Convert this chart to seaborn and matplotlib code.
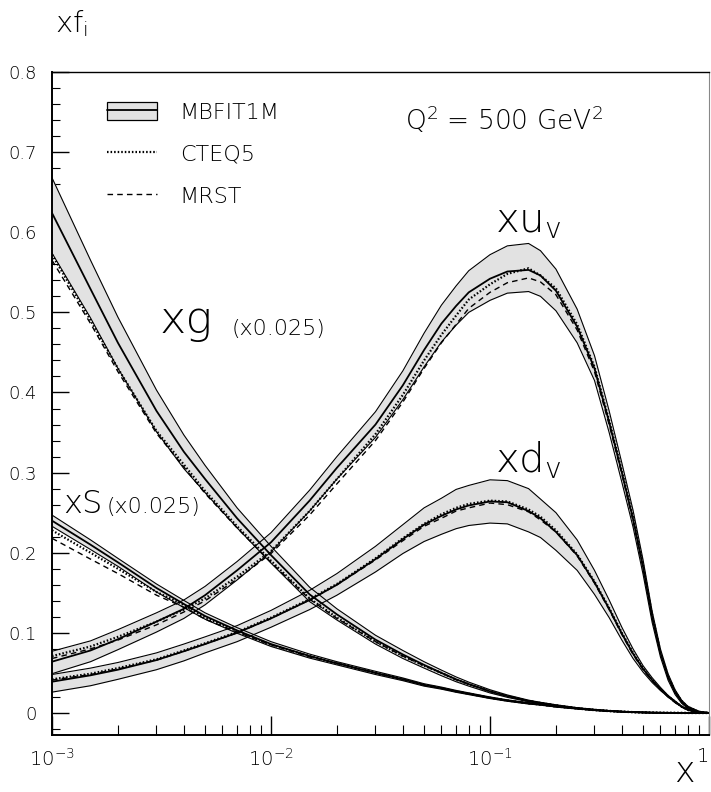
import numpy as np
import pandas as pd
import matplotlib
matplotlib.use("Agg")
import matplotlib.pyplot as plt
import seaborn as sns
from matplotlib.patches import Patch
from matplotlib.lines import Line2D
from matplotlib.legend_handler import HandlerTuple
from matplotlib.ticker import FixedLocator, LogLocator, MultipleLocator, NullFormatter

# ---------------- data ----------------
x_vals = [0.001, 0.0015, 0.002, 0.003, 0.004, 0.005, 0.007, 0.01, 0.015, 0.02, 0.03, 0.04,
          0.05, 0.06, 0.07, 0.08, 0.1, 0.12, 0.15, 0.17, 0.2, 0.25, 0.3, 0.35, 0.4, 0.45,
          0.5, 0.55, 0.6, 0.65, 0.7, 0.75, 0.8, 0.9, 1.0]

# x u_v
xu_c = [0.064, 0.078, 0.092, 0.114, 0.130, 0.147, 0.178, 0.213, 0.265, 0.306, 0.360, 0.409,
        0.453, 0.486, 0.508, 0.525, 0.542, 0.551, 0.553, 0.546, 0.527, 0.482, 0.430, 0.363, 0.300, 0.242,
        0.182, 0.120, 0.075, 0.045, 0.026, 0.014, 0.007, 0.0015, 0.0]
xu_hi = [0.077, 0.090, 0.104, 0.125, 0.141, 0.158, 0.189, 0.225, 0.278, 0.320, 0.376, 0.427,
         0.474, 0.509, 0.533, 0.552, 0.572, 0.583, 0.586, 0.577, 0.554, 0.504, 0.446, 0.377, 0.312, 0.253,
         0.191, 0.127, 0.080, 0.049, 0.029, 0.016, 0.0085, 0.002, 0.0]
xu_lo = [0.049, 0.064, 0.079, 0.101, 0.118, 0.135, 0.166, 0.201, 0.252, 0.292, 0.344, 0.391,
         0.432, 0.463, 0.484, 0.500, 0.515, 0.524, 0.526, 0.520, 0.502, 0.462, 0.415, 0.350, 0.288, 0.232,
         0.173, 0.113, 0.070, 0.041, 0.023, 0.012, 0.0055, 0.001, 0.0]
xu_cteq = [0.071, 0.083, 0.095, 0.114, 0.129, 0.143, 0.170, 0.202, 0.252, 0.292, 0.348, 0.397,
           0.440, 0.472, 0.496, 0.516, 0.535, 0.548, 0.555, 0.546, 0.530, 0.485, 0.432, 0.365, 0.302, 0.244,
           0.184, 0.122, 0.076, 0.046, 0.027, 0.015, 0.0075, 0.0015, 0.0]
xu_mrst = [0.068, 0.080, 0.091, 0.110, 0.126, 0.140, 0.167, 0.199, 0.247, 0.286, 0.340, 0.388,
           0.430, 0.462, 0.485, 0.505, 0.525, 0.537, 0.543, 0.538, 0.522, 0.478, 0.426, 0.360, 0.298, 0.240,
           0.181, 0.120, 0.075, 0.045, 0.026, 0.014, 0.007, 0.0015, 0.0]

# x d_v
xd_c = [0.039, 0.047, 0.054, 0.066, 0.077, 0.086, 0.100, 0.118, 0.141, 0.160, 0.192, 0.217,
        0.235, 0.246, 0.254, 0.259, 0.264, 0.263, 0.252, 0.243, 0.226, 0.197, 0.163, 0.130, 0.099, 0.074,
        0.055, 0.041, 0.030, 0.021, 0.014, 0.008, 0.004, 0.0008, 0.0]
xd_hi = [0.048, 0.056, 0.063, 0.075, 0.086, 0.095, 0.109, 0.128, 0.153, 0.174, 0.208, 0.235,
         0.256, 0.268, 0.279, 0.284, 0.291, 0.290, 0.280, 0.267, 0.250, 0.216, 0.178, 0.141, 0.107, 0.080,
         0.059, 0.044, 0.032, 0.022, 0.015, 0.0085, 0.0045, 0.001, 0.0]
xd_lo = [0.026, 0.034, 0.042, 0.054, 0.065, 0.075, 0.089, 0.107, 0.129, 0.147, 0.176, 0.199,
         0.214, 0.223, 0.230, 0.234, 0.237, 0.236, 0.226, 0.219, 0.203, 0.178, 0.148, 0.119, 0.091, 0.068,
         0.051, 0.038, 0.028, 0.020, 0.013, 0.0075, 0.0035, 0.0006, 0.0]
xd_cteq = [0.042, 0.049, 0.056, 0.067, 0.078, 0.087, 0.101, 0.119, 0.142, 0.161, 0.193, 0.218,
           0.236, 0.248, 0.256, 0.261, 0.265, 0.264, 0.254, 0.245, 0.228, 0.198, 0.164, 0.131, 0.100, 0.075,
           0.056, 0.041, 0.030, 0.021, 0.014, 0.008, 0.004, 0.0008, 0.0]
xd_mrst = [0.041, 0.048, 0.055, 0.066, 0.077, 0.086, 0.100, 0.118, 0.141, 0.160, 0.191, 0.215,
           0.233, 0.243, 0.252, 0.256, 0.262, 0.260, 0.251, 0.241, 0.226, 0.196, 0.162, 0.129, 0.098, 0.073,
           0.054, 0.040, 0.029, 0.020, 0.013, 0.0075, 0.0038, 0.0008, 0.0]

# x g  (x 0.025)
xg_c = [0.624, 0.529, 0.462, 0.377, 0.326, 0.292, 0.243, 0.197, 0.148, 0.123, 0.0915, 0.073,
        0.060, 0.050, 0.042, 0.036, 0.027, 0.021, 0.015, 0.0125, 0.0095, 0.006, 0.004, 0.0026, 0.0017, 0.0011,
        0.0007, 0.0004, 0.00025, 0.00015, 0.0001, 0.00005, 0.00002, 0.0, 0.0]
xg_hi = [0.668, 0.565, 0.494, 0.403, 0.347, 0.309, 0.256, 0.208, 0.157, 0.130, 0.097, 0.078,
         0.064, 0.0535, 0.045, 0.0385, 0.029, 0.0225, 0.016, 0.0133, 0.0102, 0.0065, 0.0044, 0.0029, 0.0019, 0.0012,
         0.0008, 0.00045, 0.0003, 0.00018, 0.00012, 0.00006, 0.00003, 0.0, 0.0]
xg_lo = [0.574, 0.493, 0.430, 0.351, 0.305, 0.275, 0.231, 0.187, 0.139, 0.116, 0.086, 0.068,
         0.056, 0.0465, 0.039, 0.0335, 0.025, 0.0195, 0.014, 0.0117, 0.0088, 0.0055, 0.0036, 0.0023, 0.0015, 0.0010,
         0.0006, 0.00035, 0.0002, 0.00012, 0.00008, 0.00004, 0.00001, 0.0, 0.0]
xg_cteq = [0.572, 0.490, 0.430, 0.352, 0.310, 0.277, 0.233, 0.190, 0.143, 0.119, 0.089, 0.071,
           0.059, 0.050, 0.0415, 0.036, 0.027, 0.021, 0.015, 0.0125, 0.0095, 0.006, 0.004, 0.0026, 0.0017, 0.0011,
           0.0007, 0.0004, 0.00025, 0.00015, 0.0001, 0.00005, 0.00002, 0.0, 0.0]
xg_mrst = [0.565, 0.486, 0.426, 0.349, 0.307, 0.274, 0.231, 0.188, 0.142, 0.118, 0.089, 0.071,
           0.059, 0.050, 0.0415, 0.036, 0.027, 0.021, 0.015, 0.0125, 0.0095, 0.006, 0.004, 0.0026, 0.0017, 0.0011,
           0.0007, 0.0004, 0.00025, 0.00015, 0.0001, 0.00005, 0.00002, 0.0, 0.0]

# x S  (x 0.025)
xs_c = [0.240, 0.210, 0.188, 0.156, 0.136, 0.121, 0.103, 0.086, 0.071, 0.062, 0.050, 0.042,
        0.035, 0.031, 0.027, 0.024, 0.019, 0.0155, 0.012, 0.0105, 0.008, 0.0055, 0.0035, 0.0023, 0.0015, 0.0010,
        0.0006, 0.0004, 0.0002, 0.0001, 0.00006, 0.00003, 0.00001, 0.0, 0.0]
xs_hi = [0.247, 0.216, 0.193, 0.161, 0.1405, 0.125, 0.1065, 0.089, 0.0735, 0.064, 0.052, 0.0437,
         0.0365, 0.0323, 0.0282, 0.0251, 0.020, 0.0164, 0.0128, 0.0112, 0.0086, 0.006, 0.0038, 0.0025, 0.0016, 0.0011,
         0.00065, 0.00045, 0.00022, 0.00011, 0.00007, 0.00003, 0.00001, 0.0, 0.0]
xs_lo = [0.233, 0.204, 0.183, 0.151, 0.1315, 0.117, 0.0995, 0.083, 0.0685, 0.060, 0.048, 0.0403,
         0.0335, 0.0297, 0.0258, 0.0229, 0.018, 0.0146, 0.0112, 0.0098, 0.0074, 0.005, 0.0032, 0.0021, 0.0014, 0.0009,
         0.00055, 0.00035, 0.00018, 0.00009, 0.00005, 0.00003, 0.00001, 0.0, 0.0]
xs_cteq = [0.228, 0.200, 0.180, 0.151, 0.135, 0.119, 0.102, 0.085, 0.071, 0.062, 0.050, 0.042,
           0.035, 0.031, 0.027, 0.024, 0.019, 0.0155, 0.012, 0.0105, 0.008, 0.0055, 0.0035, 0.0023, 0.0015, 0.0010,
           0.0006, 0.0004, 0.0002, 0.0001, 0.00006, 0.00003, 0.00001, 0.0, 0.0]
xs_mrst = [0.218, 0.192, 0.174, 0.147, 0.132, 0.117, 0.101, 0.085, 0.070, 0.062, 0.050, 0.042,
           0.035, 0.031, 0.027, 0.024, 0.019, 0.0155, 0.012, 0.0105, 0.008, 0.0055, 0.0035, 0.0023, 0.0015, 0.0010,
           0.0006, 0.0004, 0.0002, 0.0001, 0.00006, 0.00003, 0.00001, 0.0, 0.0]

legend_labels = ["MBFIT1M", "CTEQ5", "MRST"]
y_ticks = [0, 0.1, 0.2, 0.3, 0.4, 0.5, 0.6, 0.7, 0.8]
y_ticklabels = ["0", "0.1", "0.2", "0.3", "0.4", "0.5", "0.6", "0.7", "0.8"]
x_ticks = [1e-3, 1e-2, 1e-1, 1.0]
x_ticklabels = [r"$\mathregular{10^{-3}}$", r"$\mathregular{10^{-2}}$", r"$\mathregular{10^{-1}}$", "1"]

# ---------------- figure ----------------
sns.set_theme(style="white")
plt.rcParams["font.family"] = ["DejaVu Sans"]
plt.rcParams["font.weight"] = "light"
plt.rcParams["mathtext.fontset"] = "custom"
plt.rcParams["mathtext.rm"] = "DejaVu Sans:light"
for key in ["text.color", "xtick.color", "ytick.color", "xtick.labelcolor", "ytick.labelcolor"]:
    plt.rcParams[key] = "black"

fig = plt.figure(figsize=(7.11, 7.92), dpi=100)
ax = fig.add_axes([52 / 711, 57 / 792, 657 / 711, 663 / 792])

BAND = "#e2e2e2"
pdfs = {
    "uv": (xu_c, xu_hi, xu_lo, xu_cteq, xu_mrst),
    "dv": (xd_c, xd_hi, xd_lo, xd_cteq, xd_mrst),
    "g": (xg_c, xg_hi, xg_lo, xg_cteq, xg_mrst),
    "S": (xs_c, xs_hi, xs_lo, xs_cteq, xs_mrst),
}

for name, (c, hi, lo, ct, mr) in pdfs.items():
    ax.fill_between(x_vals, lo, hi, color=BAND, lw=0, zorder=1)

DOT = (0, (0.7, 0.9))
DASH = (0, (4, 3))
for name, (c, hi, lo, ct, mr) in pdfs.items():
    sns.lineplot(x=x_vals, y=hi, ax=ax, color="black", lw=0.8, zorder=2)
    sns.lineplot(x=x_vals, y=lo, ax=ax, color="black", lw=0.8, zorder=2)
    sns.lineplot(x=x_vals, y=ct, ax=ax, color="black", lw=1.6, linestyle=DOT, zorder=3)
    sns.lineplot(x=x_vals, y=mr, ax=ax, color="black", lw=1.0, linestyle=DASH, zorder=3)
    sns.lineplot(x=x_vals, y=c, ax=ax, color="black", lw=1.3, zorder=4)

ax.set_xscale("log")
ax.set_xlim(1e-3, 1.0)
ax.set_ylim(-0.0275, 0.8)

ax.xaxis.set_major_locator(FixedLocator(x_ticks))
ax.set_xticklabels(x_ticklabels)
ax.xaxis.set_minor_locator(LogLocator(base=10, subs=np.arange(2, 10)))
ax.xaxis.set_minor_formatter(NullFormatter())
ax.set_yticks(y_ticks)
ax.set_yticklabels(y_ticklabels)
ax.yaxis.set_minor_locator(MultipleLocator(0.02))

ax.tick_params(axis="both", which="both", direction="in", color="black",
               bottom=True, left=True, top=False, right=False)
ax.tick_params(axis="y", which="major", length=12, width=1.0, pad=11, labelsize=13)
ax.tick_params(axis="y", which="minor", length=6, width=0.8)
ax.tick_params(axis="x", which="major", length=14, width=1.0, pad=9, labelsize=14)
ax.tick_params(axis="x", which="minor", length=7, width=0.8)
ax.get_xticklabels()[-1].set_horizontalalignment("right")

for side in ["left", "bottom"]:
    ax.spines[side].set_color("black")
    ax.spines[side].set_linewidth(1.4)
ax.spines["top"].set_color("black")
ax.spines["top"].set_linewidth(1.0)
ax.spines["right"].set_color("#888888")
ax.spines["right"].set_linewidth(0.8)
ax.set_xlabel("")
ax.set_ylabel("")

# legend
h_fit = (Patch(facecolor=BAND, edgecolor="black", lw=0.9), Line2D([], [], color="black", lw=1.3))
h_cteq = Line2D([], [], color="black", lw=1.6, linestyle=DOT)
h_mrst = Line2D([], [], color="black", lw=1.0, linestyle=DASH)
ax.legend([h_fit, h_cteq, h_mrst], legend_labels,
          handler_map={tuple: HandlerTuple(ndivide=1, pad=0)},
          loc="upper left", bbox_to_anchor=(0.083, 0.955), frameon=False,
          prop={"family": "DejaVu Sans", "weight": "light", "size": 16},
          handlelength=2.25, handleheight=0.9, handletextpad=1.05,
          labelspacing=0.95, borderpad=0, borderaxespad=0)

# annotations
ax.text(0.537, 0.928, r"Q$^{\mathregular{2}}$ = 500 GeV$^{\mathregular{2}}$", transform=ax.transAxes,
        fontsize=19, va="center", ha="left")
ax.text(0.1054, 0.600, r"xu$_{\mathregular{v}}$", fontsize=29, va="baseline", ha="left")
ax.text(0.1054, 0.300, r"xd$_{\mathregular{v}}$", fontsize=29, va="baseline", ha="left")
ax.text(0.00311, 0.474, "xg", fontsize=32, va="baseline", ha="left")
ax.text(0.00664, 0.472, "(x0.025)", fontsize=16, va="baseline", ha="left")
ax.text(0.00112, 0.250, "xS", fontsize=23, va="baseline", ha="left")
ax.text(0.00177, 0.250, "(x0.025)", fontsize=16, va="baseline", ha="left")

fig.text(55 / 711, 1 - 32 / 792, r"xf$_{\mathregular{i}}$", fontsize=21, va="baseline", ha="left")
fig.text(695 / 711, 1 - 782 / 792, "x", fontsize=25, va="baseline", ha="right")

fig.savefig("out.png", dpi=100)
